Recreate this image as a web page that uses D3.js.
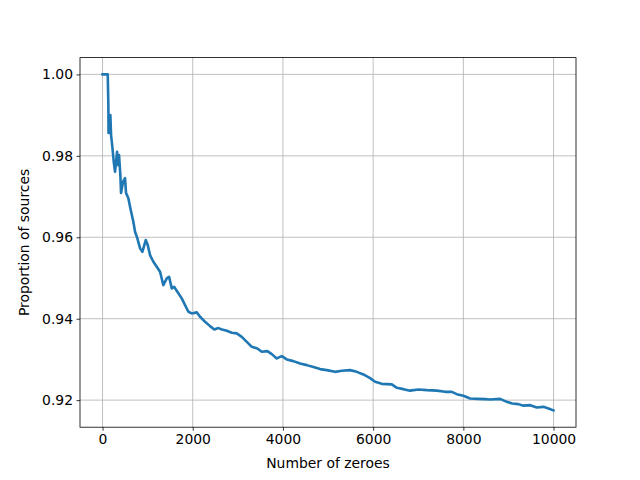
<!DOCTYPE html>
<html>
<head>
<meta charset="utf-8">
<script src="https://cdn.jsdelivr.net/npm/d3@7"></script>
<style>
  html, body { margin: 0; padding: 0; background: #ffffff; }
  svg { display: block; font-family: "DejaVu Sans", sans-serif; }
</style>
</head>
<body>
<svg id="chart" width="640" height="480"></svg>
<script>
// ---- data ----
const zeroes = [0, 115, 129, 133, 173, 189, 217, 248, 277, 322, 337, 366, 395, 410, 455, 499, 521, 572, 625, 683, 721, 772, 832, 883, 958, 1002, 1053, 1127, 1202, 1275, 1348, 1424, 1475, 1535, 1586, 1659, 1756, 1830, 1903, 1978, 2089, 2162, 2273, 2384, 2479, 2568, 2650, 2754, 2865, 2976, 3087, 3198, 3309, 3433, 3531, 3655, 3752, 3863, 3974, 4085, 4231, 4380, 4529, 4675, 4824, 4972, 5156, 5305, 5489, 5637, 5784, 5932, 6043, 6192, 6303, 6414, 6525, 6671, 6819, 7003, 7190, 7412, 7596, 7744, 7855, 8002, 8150, 8327, 8483, 8594, 8815, 8964, 9082, 9221, 9332, 9481, 9629, 9776, 9887, 9998];
const proportion = [1.0, 1.0, 0.99248, 0.98560, 0.99002, 0.98511, 0.98224, 0.97855, 0.97609, 0.98101, 0.97774, 0.98020, 0.97528, 0.97086, 0.97364, 0.97455, 0.97086, 0.96956, 0.96668, 0.96381, 0.96135, 0.95973, 0.95727, 0.95644, 0.95931, 0.95808, 0.95563, 0.95398, 0.95275, 0.95152, 0.94826, 0.94990, 0.95029, 0.94744, 0.94784, 0.94661, 0.94499, 0.94334, 0.94170, 0.94130, 0.94155, 0.94047, 0.93924, 0.93818, 0.93737, 0.93769, 0.93737, 0.93703, 0.93654, 0.93639, 0.93555, 0.93432, 0.93310, 0.93270, 0.93187, 0.93204, 0.93130, 0.93024, 0.93081, 0.93000, 0.92958, 0.92902, 0.92860, 0.92811, 0.92762, 0.92737, 0.92695, 0.92720, 0.92737, 0.92695, 0.92631, 0.92541, 0.92450, 0.92400, 0.92393, 0.92388, 0.92302, 0.92270, 0.92233, 0.92263, 0.92246, 0.92233, 0.92204, 0.92204, 0.92147, 0.92106, 0.92042, 0.92032, 0.92025, 0.92017, 0.92032, 0.91958, 0.91919, 0.91902, 0.91865, 0.91877, 0.91821, 0.91835, 0.91796, 0.91748];
const xTicks = [0, 2000, 4000, 6000, 8000, 10000];
const yTicks = [0.92, 0.94, 0.96, 0.98, 1.00];
const xLabel = "Number of zeroes";
const yLabel = "Proportion of sources";

(function () {
  // ---- layout ----
  const plotL = 80, plotR = 576, plotT = 57.6, plotB = 427.2;
  const fontPx = 13.9;

  const svg = d3.select("#chart");

  const xMin = d3.min(zeroes), xMax = d3.max(zeroes);
  const xPad = (xMax - xMin) * 0.05;
  const yMin = d3.min(proportion), yMax = d3.max(proportion);
  const yPad = (yMax - yMin) * 0.05;

  const x = d3.scaleLinear().domain([xMin - xPad, xMax + xPad]).range([plotL, plotR]);
  const y = d3.scaleLinear().domain([yMin - yPad, yMax + yPad]).range([plotB, plotT]);

  // grid
  const grid = svg.append("g").attr("stroke", "#b0b0b0").attr("stroke-width", 0.8);
  grid.selectAll("line.gx").data(xTicks).join("line").attr("class", "gx")
    .attr("x1", d => x(d)).attr("x2", d => x(d))
    .attr("y1", plotT).attr("y2", plotB);
  grid.selectAll("line.gy").data(yTicks).join("line").attr("class", "gy")
    .attr("x1", plotL).attr("x2", plotR)
    .attr("y1", d => y(d)).attr("y2", d => y(d));

  // line
  const data = zeroes.map((z, i) => [z, proportion[i]]);
  svg.append("path")
    .datum(data)
    .attr("fill", "none")
    .attr("stroke", "#1f77b4")
    .attr("stroke-width", 2.6)
    .attr("stroke-linejoin", "round")
    .attr("stroke-linecap", "square")
    .attr("d", d3.line().x(d => x(d[0])).y(d => y(d[1])));

  // axes
  const xAxis = d3.axisBottom(x).tickValues(xTicks).tickFormat(d3.format("d"))
    .tickSizeInner(3.5).tickSizeOuter(0).tickPadding(3.5);
  const yAxis = d3.axisLeft(y).tickValues(yTicks).tickFormat(d3.format(".2f"))
    .tickSizeInner(3.5).tickSizeOuter(0).tickPadding(3.5);

  const gx = svg.append("g").attr("transform", `translate(0,${plotB})`).call(xAxis);
  const gy = svg.append("g").attr("transform", `translate(${plotL},0)`).call(yAxis);
  [gx, gy].forEach(g => {
    g.select(".domain").remove();
    g.selectAll(".tick line").attr("stroke", "#000").attr("stroke-width", 0.8);
    g.selectAll(".tick text").attr("fill", "#000")
      .style("font-family", "'DejaVu Sans', sans-serif").style("font-size", fontPx + "px");
  });

  // spines
  svg.append("rect")
    .attr("x", plotL).attr("y", plotT)
    .attr("width", plotR - plotL).attr("height", plotB - plotT)
    .attr("fill", "none").attr("stroke", "#000").attr("stroke-width", 0.8);

  // labels
  svg.append("text")
    .attr("x", (plotL + plotR) / 2).attr("y", 468)
    .attr("text-anchor", "middle")
    .style("font-size", fontPx + "px").attr("fill", "#000")
    .text(xLabel);
  svg.append("text")
    .attr("transform", `translate(29,${(plotT + plotB) / 2}) rotate(-90)`)
    .attr("text-anchor", "middle")
    .style("font-size", fontPx + "px").attr("fill", "#000")
    .text(yLabel);
})();
</script>
</body>
</html>
